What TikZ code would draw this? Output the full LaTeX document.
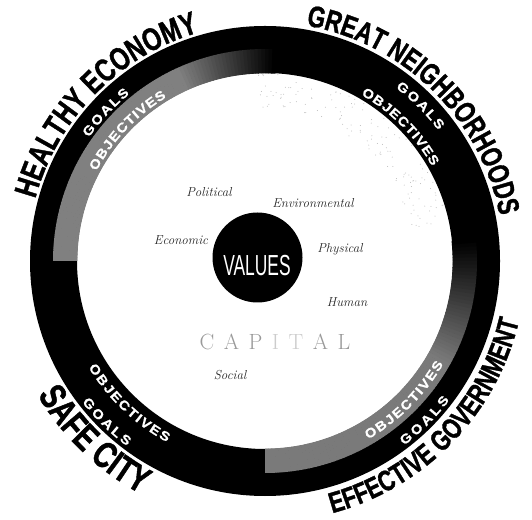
\documentclass[tikz,border=0pt]{standalone}
\usepackage{fontspec}
\usetikzlibrary{decorations.text}
\newfontfamily\condfont[FakeStretch=0.75,FakeBold=1.2]{Liberation Sans}
\newfontfamily\widefont[FakeStretch=1.15,FakeBold=0.8]{Liberation Sans}
\newfontfamily\valfont[FakeStretch=0.6]{Liberation Sans}
\tikzset{
  bigtxt/.style={decorate, decoration={text along path, text align=center, text={#1}}},
  smalltxt/.style={decorate, decoration={text along path, text align=fit to path, text={#1}}},
  capital/.style={font=\itshape\fontsize{13}{13}\selectfont, text=black!85, inner sep=0pt},
  speck/.style={fill=black!28}
}
\begin{document}
\begin{tikzpicture}[x=1pt,y=1pt]
\useasboundingbox (0,0) rectangle (532,519);
\coordinate (c) at (265,258);
% ring
\fill[black, even odd rule] (c) circle[radius=235] (c) circle[radius=188];
\begin{scope}[shift={(c)}]
% faint specks inside the ring, upper right
\pgfmathsetseed{42}
\foreach \k in {1,...,140}{
  \pgfmathsetmacro\ang{12+80*rnd}
  \pgfmathsetmacro\rr{150+37*rnd}
  \fill[speck] (\ang:\rr) circle[radius=0.5];
}
% gray band: Healthy Economy sector
\foreach \i in {0,...,92}{
  \pgfmathsetmacro\a{180-\i}
  \pgfmathsetmacro\b{\a-1.15}
  \pgfmathsetmacro\p{\i<65 ? 50 : 50+50*(\i-65)/27}
  \fill[black!\p] (\a:187.6) arc[start angle=\a,end angle=\b,radius=187.6] -- (\b:212) arc[start angle=\b,end angle=\a,radius=212] -- cycle;
}
% gray band: Effective Government sector
\foreach \i in {0,...,95}{
  \pgfmathsetmacro\a{270+\i}
  \pgfmathsetmacro\b{\a+1.15}
  \pgfmathsetmacro\p{\i<60 ? 52 : 52+48*(\i-60)/35}
  \fill[black!\p] (\a:187.6) arc[start angle=\a,end angle=\b,radius=187.6] -- (\b:212) arc[start angle=\b,end angle=\a,radius=212] -- cycle;
}
% outer titles
\path[bigtxt={|\condfont\bfseries\fontsize{32}{32}\selectfont|HEALTHY ECONOMY}]
  (185.5:238) arc[start angle=185.5,end angle=85.5,radius=238];
\path[bigtxt={|\condfont\bfseries\fontsize{30}{30}\selectfont|GREAT NEIGHBORHOODS}]
  (95.5:239) arc[start angle=95.5,end angle=-4.5,radius=239];
\path[bigtxt={|\condfont\bfseries\fontsize{37}{37}\selectfont|SAFE CITY}]
  (176.25:264) arc[start angle=176.25,end angle=276.25,radius=264];
\path[bigtxt={|\condfont\bfseries\fontsize{29}{29}\selectfont|EFFECTIVE GOVERNMENT}]
  (265.85:261) arc[start angle=265.85,end angle=365.85,radius=261];
% goals / objectives
\path[smalltxt={|\widefont\bfseries\fontsize{13}{13}\selectfont\color{white}|GOALS}]
  (145:215) arc[start angle=145,end angle=129,radius=215];
\path[smalltxt={|\widefont\bfseries\fontsize{13}{13}\selectfont\color{white}|OBJECTIVES}]
  (152:191) arc[start angle=152,end angle=121,radius=191];
\path[smalltxt={|\widefont\bfseries\fontsize{13}{13}\selectfont\color{white}|GOALS}]
  (53:217) arc[start angle=53,end angle=37,radius=217];
\path[smalltxt={|\widefont\bfseries\fontsize{13}{13}\selectfont\color{white}|OBJECTIVES}]
  (60:192) arc[start angle=60,end angle=29.5,radius=192];
\path[smalltxt={|\widefont\bfseries\fontsize{13}{13}\selectfont\color{white}|OBJECTIVES}]
  (211:206) arc[start angle=211,end angle=241.6,radius=206];
\path[smalltxt={|\widefont\bfseries\fontsize{13}{13}\selectfont\color{white}|GOALS}]
  (217.6:231) arc[start angle=217.6,end angle=233.3,radius=231];
\path[smalltxt={|\widefont\bfseries\fontsize{13}{13}\selectfont\color{white}|OBJECTIVES}]
  (300:206) arc[start angle=300,end angle=330,radius=206];
\path[smalltxt={|\widefont\bfseries\fontsize{13}{13}\selectfont\color{white}|GOALS}]
  (307:231) arc[start angle=307,end angle=323,radius=231];
\end{scope}
% values
\node[circle, fill=black, minimum size=90pt, inner sep=0pt] (values) at (257.5,261.5) {};
\node[text=white, font=\valfont\fontsize{29}{29}\selectfont, inner sep=0pt] (vt) at (257,253) {VALUES};
% capital labels
\node[capital] (pol) at (209,327) {Political};
\node[capital] (eco) at (181,279) {Economic};
\node[capital] (env) at (313,316) {Environmental};
\node[capital] (phy) at (340,270) {Physical};
\node[capital] (hum) at (347,217) {Human};
\node[capital] (soc) at (230,144) {Social};
\node[font=\fontsize{22}{22}\selectfont, text=black!40, inner sep=0pt] (cap) at (275,177)
  {C\hspace{9.5pt}A\hspace{9.5pt}P\hspace{9.5pt}{\color{black!20}I\hspace{9.5pt}T}\hspace{9.5pt}A\hspace{9.5pt}L};
\end{tikzpicture}
\end{document}
